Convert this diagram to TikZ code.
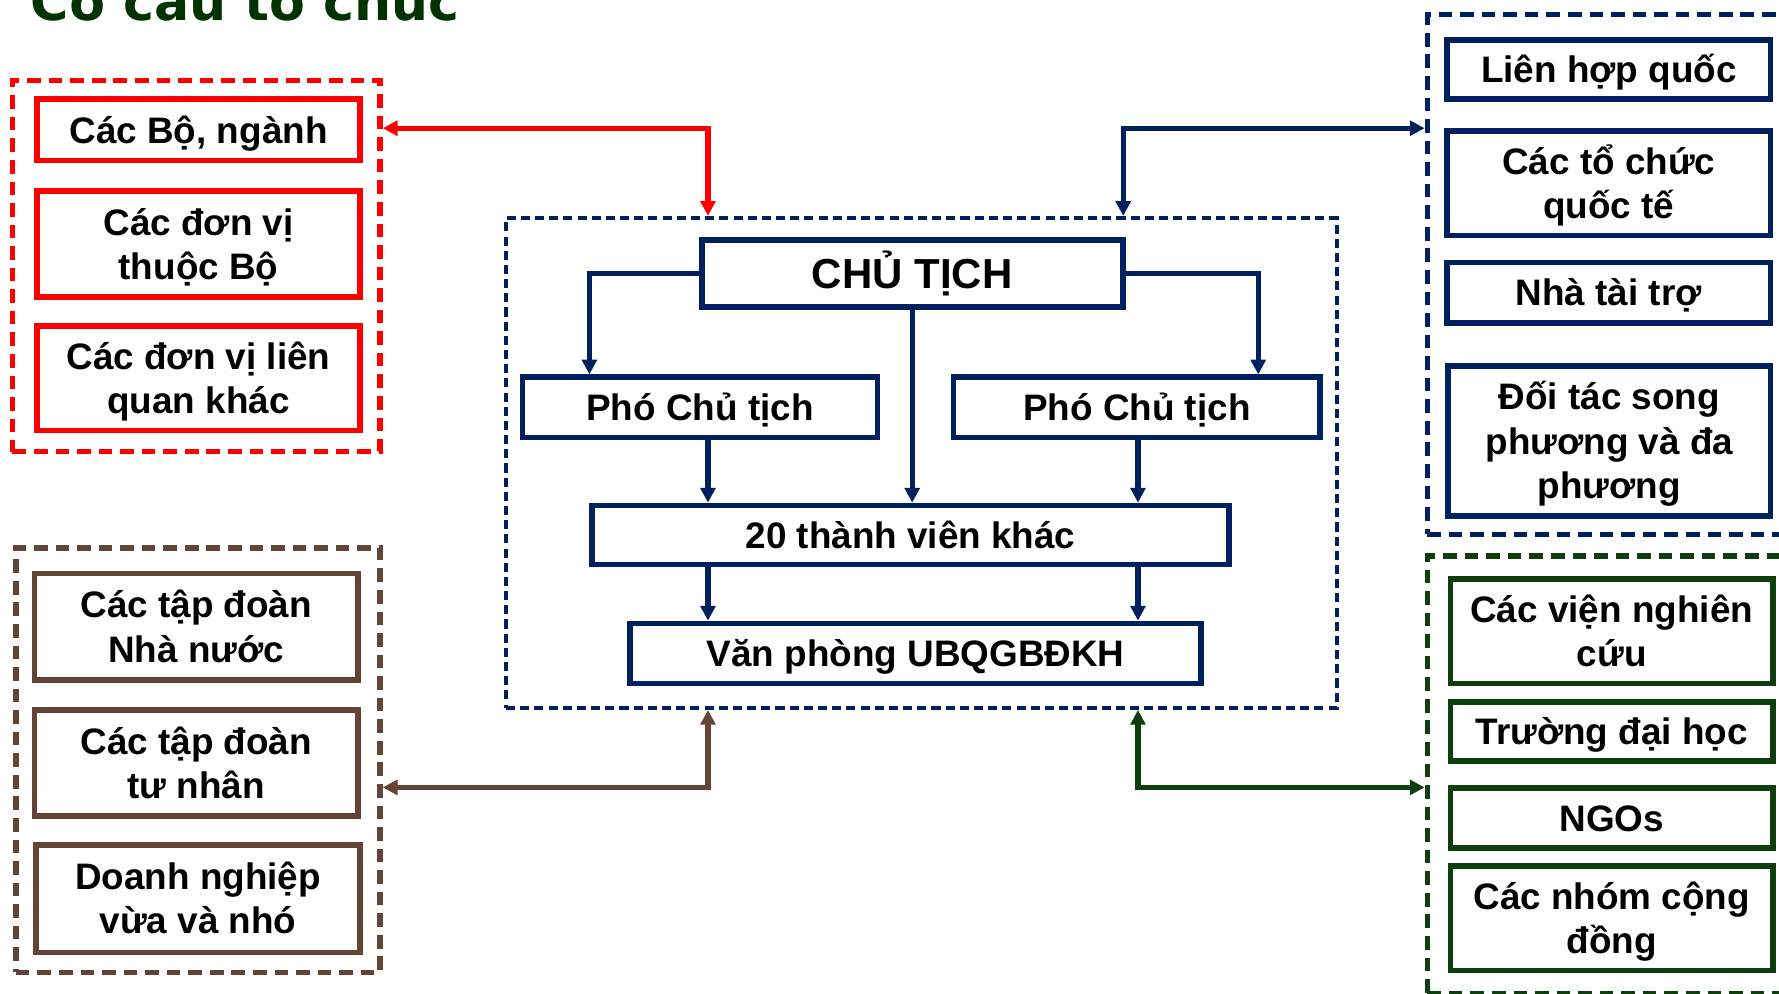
\documentclass[tikz,border=0pt]{standalone}
\usepackage{fontspec}
\setmainfont{Liberation Sans}
\newfontfamily\titlefont{DejaVu Sans}
\usetikzlibrary{arrows.meta}

\definecolor{navy}{HTML}{002060}
\definecolor{brn}{HTML}{634436}
\definecolor{dgreen}{HTML}{0E3D0E}
\definecolor{tgreen}{HTML}{003300}

\tikzset{
  box/.style={draw, line width=5pt, fill=white, align=center, inner sep=0pt,
    font=\bfseries\fontsize{32.5}{39}\selectfont, text height=23.3pt, text depth=0pt},
  twolines/.style={text height=62.3pt},
  threelines/.style={text height=101.3pt},
  redbox/.style={box, draw=red},
  brnbox/.style={box, draw=brn},
  navybox/.style={box, draw=navy},
  grnbox/.style={box, draw=dgreen},
  grp/.style={draw, line width=4.7pt, dash pattern=on 12pt off 7pt, inner sep=0pt},
  link/.style={line width=4.5pt, {Triangle[length=13pt,width=13pt]}-{Triangle[length=13pt,width=13pt]}},
  down/.style={navy, line width=4.5pt, -{Triangle[length=13pt,width=13pt]}}
}

\begin{document}
\begin{tikzpicture}[x=1pt,y=-1pt]
\useasboundingbox (0,0) rectangle (1568,876);
\clip (0,0) rectangle (1568,876);

\node[anchor=base west, inner sep=0pt, text=tgreen, font=\titlefont\bfseries\fontsize{46}{50}\selectfont] (title) at (27,18) {Cơ cấu tổ chức};

% group frames
\node[grp, draw=red, minimum width=324pt, minimum height=327pt] (redgrp) at (173,234.5) {};
\node[grp, draw=brn, minimum width=321pt, minimum height=374pt] (brngrp) at (174.5,670) {};
\node[grp, draw=navy, minimum width=352pt, minimum height=458pt] (bluegrp) at (1434,242) {};
\node[grp, draw=dgreen, minimum width=352pt, minimum height=386pt] (grngrp) at (1434,683) {};
\node[draw=navy, line width=3.5pt, dash pattern=on 8pt off 4.5pt, inner sep=0pt,
  minimum width=732pt, minimum height=432pt] (ctrgrp) at (812,408) {};

% left side
\node[redbox, minimum width=285pt, minimum height=54pt] (rA) at (175,114.5) {Các Bộ, ngành};
\node[redbox, twolines, minimum width=285pt, minimum height=93pt] (rB) at (175,215) {Các đơn vị\\thuộc Bộ};
\node[redbox, twolines, minimum width=285pt, minimum height=92pt] (rC) at (175,333.5) {Các đơn vị liên\\quan khác};

\node[brnbox, twolines, minimum width=285pt, minimum height=94pt] (bA) at (173,552.5) {Các tập đoàn\\Nhà nước};
\node[brnbox, twolines, minimum width=285pt, minimum height=94pt] (bB) at (173,672.5) {Các tập đoàn\\tư nhân};
\node[brnbox, twolines, minimum width=286pt, minimum height=95pt] (bC) at (174.5,792) {Doanh nghiệp\\vừa và nhó};

% right side
\node[navybox, minimum width=285pt, minimum height=52pt] (qA) at (1418,61.5) {Liên hợp quốc};
\node[navybox, twolines, minimum width=285pt, minimum height=92pt] (qB) at (1418,161.5) {Các tổ chức\\quốc tế};
\node[navybox, minimum width=285pt, minimum height=53pt] (qC) at (1418,258) {Nhà tài trợ};
\node[navybox, threelines, minimum width=284pt, minimum height=132pt] (qD) at (1418.5,388.5) {Đối tác song\\phương và đa\\phương};

\node[grnbox, twolines, minimum width=284pt, minimum height=92pt] (gA) at (1420.5,556.5) {Các viện nghiên\\cứu};
\node[grnbox, minimum width=284pt, minimum height=52pt] (gB) at (1420.5,644.5) {Trường đại học};
\node[grnbox, minimum width=284pt, minimum height=53pt] (gC) at (1420.5,721) {NGOs};
\node[grnbox, twolines, minimum width=284pt, minimum height=92pt] (gD) at (1420.5,809.5) {Các nhóm cộng\\đồng};

% centre
\node[navybox, minimum width=371pt, minimum height=59pt, font=\bfseries\fontsize{37}{40}\selectfont, text height=26.5pt] (chair) at (804,241) {CHỦ TỊCH};
\node[navybox, minimum width=313pt, minimum height=53pt] (vpL) at (617,359) {Phó Chủ tịch};
\node[navybox, minimum width=323pt, minimum height=53pt] (vpR) at (1002,359) {Phó Chủ tịch};
\node[navybox, minimum width=562pt, minimum height=52pt] (mem) at (802.5,471.5) {20 thành viên khác};
\node[navybox, minimum width=503pt, minimum height=53pt] (off) at (807,576) {Văn phòng UBQGBĐKH};

\coordinate (pL) at (519.5,0);
\coordinate (pR) at (1109,0);
\coordinate (colL) at (624,0);
\coordinate (colR) at (1003,0);
\coordinate (colB) at (990,0);
\coordinate (rowT) at (0,113);
\coordinate (rowB) at (0,694);

\draw[down] (chair.west) -| (pL |- vpL.north);
\draw[down] (chair.east) -| (pR |- vpR.north);
\draw[down] (chair.south) -- (chair.south |- mem.north);
\draw[down] (vpL.south -| colL) -- (mem.north -| colL);
\draw[down] (vpR.south -| colR) -- (mem.north -| colR);
\draw[down] (mem.south -| colL) -- (off.north -| colL);
\draw[down] (mem.south -| colR) -- (off.north -| colR);

\draw[link, red] (redgrp.east |- rowT) -| (ctrgrp.north -| colL);
\draw[link, navy] (bluegrp.west |- rowT) -| (ctrgrp.north -| colB);
\draw[link, brn] (brngrp.east |- rowB) -| (ctrgrp.south -| colL);
\draw[link, dgreen] (grngrp.west |- rowB) -| (ctrgrp.south -| colR);
\end{tikzpicture}
\end{document}
